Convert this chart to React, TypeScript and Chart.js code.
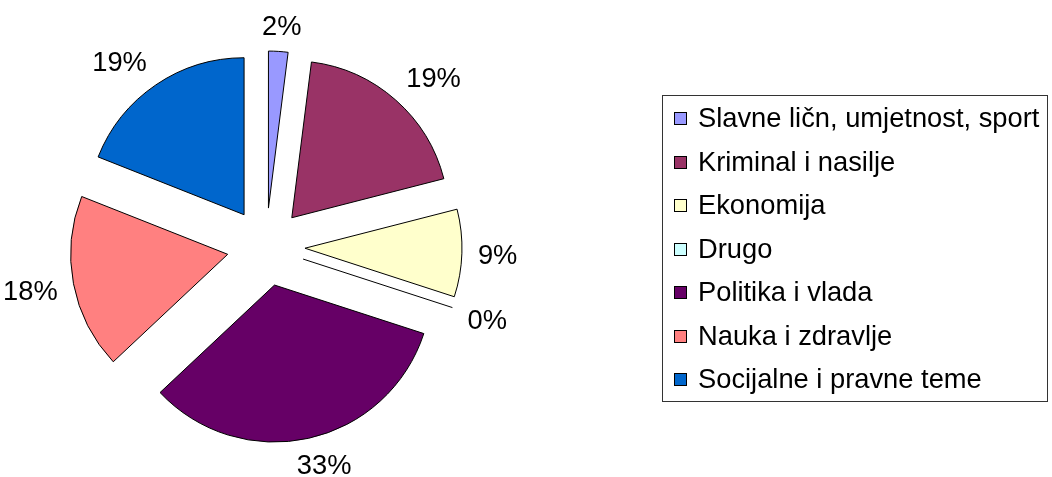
import { useEffect, useRef } from "react";
import { Chart, registerables } from "chart.js";

Chart.register(...registerables);

const categories = [
  "Slavne ličn, umjetnost, sport",
  "Kriminal i nasilje",
  "Ekonomija",
  "Drugo",
  "Politika i vlada",
  "Nauka i zdravlje",
  "Socijalne i pravne teme",
];
const shares = [2, 19, 9, 0, 33, 18, 19];
const colors = ["#9999FF", "#993366", "#FFFFCC", "#CCFFFF", "#660066", "#FF8080", "#0066CC"];

const FONT = '27.3px "Liberation Sans", Arial, sans-serif';
const EXPLODE = 39;
const PIE_RADIUS = 157;

const clamp = (v: number) => Math.max(-1, Math.min(1, v));

const explodePlugin = {
  id: "explodeSlices",
  afterDatasetUpdate(chart: any, args: any) {
    const meta = chart.getDatasetMeta(args.index);
    meta.data.forEach((arc: any) => {
      const mid = (arc.startAngle + arc.endAngle) / 2;
      arc.x += Math.cos(mid) * EXPLODE;
      arc.y += Math.sin(mid) * EXPLODE;
    });
  },
  afterDatasetsDraw(chart: any) {
    const ctx = chart.ctx;
    const meta = chart.getDatasetMeta(0);
    const values = chart.data.datasets[0].data as number[];
    ctx.save();
    // zero-size slices drawn as a single edge line
    meta.data.forEach((arc: any) => {
      if (arc.circumference === 0) {
        ctx.beginPath();
        ctx.moveTo(arc.x, arc.y);
        ctx.lineTo(arc.x + Math.cos(arc.startAngle) * arc.outerRadius, arc.y + Math.sin(arc.startAngle) * arc.outerRadius);
        ctx.strokeStyle = "#000";
        ctx.lineWidth = 1;
        ctx.stroke();
      }
    });
    // percentage labels
    ctx.font = FONT;
    ctx.fillStyle = "#000";
    ctx.textAlign = "center";
    ctx.textBaseline = "alphabetic";
    const total = values.reduce((a, b) => a + b, 0);
    meta.data.forEach((arc: any, i: number) => {
      const mid = (arc.startAngle + arc.endAngle) / 2;
      const cx = arc.x - Math.cos(mid) * EXPLODE;
      const cy = arc.y - Math.sin(mid) * EXPLODE;
      const text = Math.round((values[i] / total) * 100) + "%";
      const halfW = ctx.measureText(text).width / 2;
      const halfH = 10.5;
      const d = arc.outerRadius + EXPLODE + 16;
      const px = cx + Math.cos(mid) * d;
      const py = cy + Math.sin(mid) * d;
      const x = px + halfW * clamp(2 * Math.cos(mid));
      const y = py + halfH * clamp(2 * Math.sin(mid));
      ctx.fillText(text, x, y + 9.8);
    });
    ctx.restore();
  },
};

const boxLegendPlugin = {
  id: "boxLegend",
  afterDraw(chart: any) {
    const ctx = chart.ctx;
    const labels = chart.data.labels as string[];
    const bg = chart.data.datasets[0].backgroundColor as string[];
    ctx.save();
    ctx.font = FONT;
    const maxW = Math.max(...labels.map((l) => ctx.measureText(l).width));
    const rowH = 43.5;
    const padL = 12;
    const sq = 13;
    const gap = 11;
    const boxW = Math.round(padL + sq + gap + maxW + 8);
    const boxH = Math.round(labels.length * rowH + 1);
    const centerY = (chart.chartArea.top + chart.chartArea.bottom) / 2;
    const left = chart.width - 5 - boxW;
    const top = Math.round(centerY - boxH / 2 + 0.5);
    ctx.strokeStyle = "#333";
    ctx.lineWidth = 1;
    ctx.strokeRect(left + 0.5, top + 0.5, boxW, boxH);
    ctx.textAlign = "left";
    ctx.textBaseline = "alphabetic";
    labels.forEach((l, i) => {
      const base = Math.round(top + 32 + i * rowH);
      ctx.fillStyle = bg[i];
      ctx.fillRect(left + padL, base - 15, sq, sq);
      ctx.strokeStyle = "#000";
      ctx.strokeRect(left + padL + 0.5, base - 15 + 0.5, sq - 1, sq - 1);
      ctx.fillStyle = "#000";
      ctx.fillText(l, left + padL + sq + gap, base);
    });
    ctx.restore();
  },
};

export default function App() {
  const ref = useRef<HTMLCanvasElement | null>(null);
  useEffect(() => {
    if (!ref.current) return;
    const chart = new Chart(ref.current, {
      type: "pie",
      data: {
        labels: categories,
        datasets: [
          {
            data: shares,
            backgroundColor: colors,
            borderColor: "#000",
            borderWidth: 1,
            borderJoinStyle: "miter",
          },
        ],
      },
      options: {
        responsive: false,
        animation: false,
        events: [],
        radius: PIE_RADIUS,
        layout: { padding: { left: 0, top: 17, bottom: 0, right: 520 } },
        plugins: {
          legend: { display: false },
          tooltip: { enabled: false },
        },
      } as any,
      plugins: [explodePlugin, boxLegendPlugin],
    });
    return () => chart.destroy();
  }, []);
  return (
    <div style={{ position: "fixed", left: 0, top: 0, width: 1052, height: 477, background: "#fff" }}>
      <canvas ref={ref} width={1052} height={477} />
    </div>
  );
}
